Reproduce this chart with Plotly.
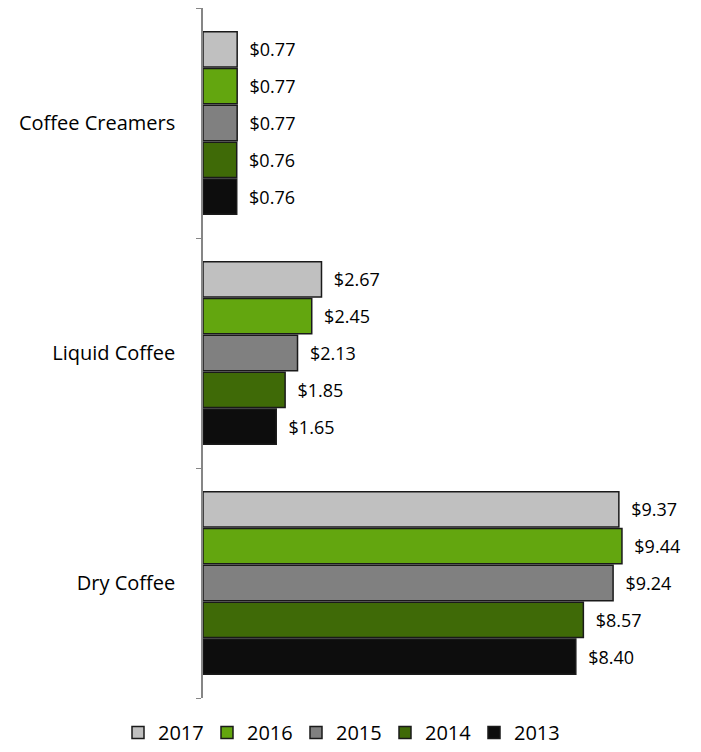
import plotly.graph_objects as go

categories = ["Dry Coffee", "Liquid Coffee", "Coffee Creamers"]
years = ["2013", "2014", "2015", "2016", "2017"]
values = {
    "2017": [9.37, 2.67, 0.77],
    "2016": [9.44, 2.45, 0.77],
    "2015": [9.24, 2.13, 0.77],
    "2014": [8.57, 1.85, 0.76],
    "2013": [8.40, 1.65, 0.76],
}
colors = {
    "2017": "#C0C0C0",
    "2016": "#63A60F",
    "2015": "#808080",
    "2014": "#3F6A07",
    "2013": "#0D0D0D",
}

fig = go.Figure()
for yr in years:
    fig.add_trace(go.Bar(
        y=categories, x=values[yr], name=yr, orientation="h",
        marker=dict(color=colors[yr], line=dict(color="#1a1a1a", width=1.5)),
        text=[f"${v:.2f}" for v in values[yr]],
        texttemplate="  %{text}",
        textposition="outside",
        textfont=dict(family="Open Sans, Liberation Sans", size=18, color="#000"),
        cliponaxis=False,
    ))

fig.update_layout(
    width=701, height=752,
    margin=dict(l=203, r=20, t=8, b=54),
    paper_bgcolor="white", plot_bgcolor="white",
    barmode="group", bargap=0.2, bargroupgap=0.04,
    font=dict(family="Open Sans, Liberation Sans", size=20, color="#000"),
    xaxis=dict(range=[0, 10.77], visible=False),
    yaxis=dict(
        showline=True, linecolor="#868686", linewidth=1.5,
        ticks="outside", tickson="boundaries", ticklen=5, tickcolor="#868686",
        tickfont=dict(size=20), showgrid=False, ticklabelstandoff=22,
        range=[-0.5, 2.5],
    ),
    legend=dict(
        orientation="h", traceorder="reversed",
        x=118 / 701, xanchor="left", xref="container",
        y=-0.012, yanchor="bottom", yref="container",
        font=dict(size=20), itemwidth=30, entrywidth=44,
    ),
    showlegend=True,
)

fig.write_html("out.html")
